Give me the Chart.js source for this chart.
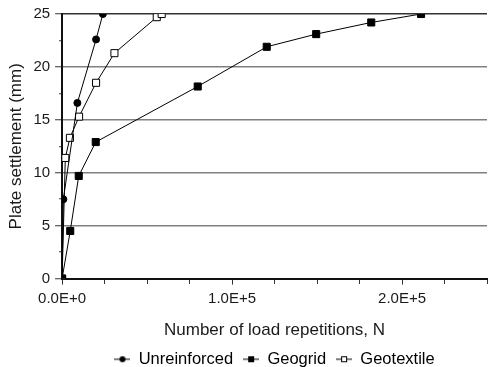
<!DOCTYPE html>
<html>
<head>
<meta charset="utf-8">
<script src="https://cdn.jsdelivr.net/npm/chart.js@4.4.1/dist/chart.umd.min.js"></script>
<style>
    html, body { margin: 0; padding: 0; background: #ffffff; }
    #wrap { width: 493px; height: 367px; }
</style>
</head>
<body>
<div id="wrap"><canvas id="settleChart" width="493" height="367"></canvas></div>
<script>
// Series: N (load repetitions) and settlement (mm)
const seriesNames = ['Unreinforced', 'Geogrid', 'Geotextile'];

const unreinfN = [0, 750, 9000, 20000, 24000];
const unreinfS = [0, 7.5, 16.6, 22.6, 25];

const geogridN = [0, 4800, 9800, 19800, 79800, 120400, 149500, 181900, 211200];
const geogridS = [0, 4.5, 9.7, 12.9, 18.15, 21.9, 23.1, 24.2, 25];

const geotexN = [0, 1900, 4600, 10000, 20000, 30800, 55700, 58600];
const geotexS = [0, 11.4, 13.3, 15.3, 18.5, 21.3, 24.7, 25];

const xMajorTicks = [0, 100000, 200000];
const yMajorTicks = [0, 5, 10, 15, 20, 25];

function toPoints(xs, ys) {
    return xs.map((x, i) => ({ x: x, y: ys[i] }));
}

function fmtSci(v) {
    if (v === 0) return '0.0E+0';
    return (v / 100000).toFixed(1) + 'E+5';
}

// small legend icon: line with marker in the middle
function legendIcon(style, filled) {
    const c = document.createElement('canvas');
    c.width = 16; c.height = 8;
    const g = c.getContext('2d');
    g.strokeStyle = '#000';
    g.lineWidth = 1;
    g.beginPath();
    g.moveTo(0, 4); g.lineTo(16, 4);
    g.stroke();
    g.fillStyle = filled ? '#000' : '#fff';
    if (style === 'circle') {
        g.beginPath();
        g.arc(8, 4, 3, 0, Math.PI * 2);
        g.fill();
    } else {
        g.fillRect(5, 1, 6, 6);
        g.strokeRect(5.5, 1.5, 5, 5);
    }
    return c;
}

const FONT = "'Liberation Sans', Arial, sans-serif";
Chart.defaults.font.family = FONT;
Chart.defaults.font.size = 15;
Chart.defaults.color = '#1a1a1a';

const ctx = document.getElementById('settleChart').getContext('2d');

new Chart(ctx, {
    type: 'line',
    data: {
        datasets: [
            {
                label: seriesNames[0],
                data: toPoints(unreinfN, unreinfS),
                borderColor: '#000',
                borderWidth: 1,
                pointStyle: 'circle',
                pointRadius: 3.5,
                pointBackgroundColor: '#000',
                pointBorderColor: '#000',
                icon: legendIcon('circle', true)
            },
            {
                label: seriesNames[1],
                data: toPoints(geogridN, geogridS),
                borderColor: '#000',
                borderWidth: 1,
                pointStyle: 'rect',
                pointRadius: 5,
                pointBackgroundColor: '#000',
                pointBorderColor: '#000',
                icon: legendIcon('rect', true)
            },
            {
                label: seriesNames[2],
                data: toPoints(geotexN, geotexS),
                borderColor: '#000',
                borderWidth: 1,
                pointStyle: 'rect',
                pointRadius: 5,
                pointBorderWidth: 1,
                pointBackgroundColor: '#fff',
                pointBorderColor: '#000',
                icon: legendIcon('rect', false)
            }
        ]
    },
    options: {
        responsive: false,
        animation: false,
        layout: { padding: { top: 8, right: 0, left: 0, bottom: 0 } },
        elements: { line: { tension: 0 } },
        plugins: {
            tooltip: { enabled: false },
            legend: {
                position: 'bottom',
                fullSize: false,
                maxHeight: 26,
                labels: {
                    usePointStyle: true,
                    pointStyleWidth: 16,
                    padding: 10,
                    color: '#1a1a1a',
                    font: { size: 16.5, family: FONT },
                    generateLabels: function (chart) {
                        return chart.data.datasets.map((ds, i) => ({
                            text: ds.label,
                            pointStyle: ds.icon,
                            fillStyle: '#000',
                            strokeStyle: '#000',
                            lineWidth: 0,
                            hidden: false,
                            datasetIndex: i
                        }));
                    }
                }
            }
        },
        scales: {
            x: {
                type: 'linear',
                min: 0,
                max: 250000,
                border: { color: '#111', width: 2 },
                grid: {
                    drawOnChartArea: false,
                    tickLength: 6,
                    tickColor: '#333',
                    // minor ticks are shorter
                    tickBorderDash: c => xMajorTicks.includes(c.tick.value) ? [] : [4, 10]
                },
                ticks: {
                    stepSize: 25000,
                    autoSkip: false,
                    maxRotation: 0,
                    padding: 5,
                    callback: v => xMajorTicks.includes(v) ? fmtSci(v) : ''
                },
                title: {
                    display: true,
                    text: 'Number of load repetitions, N',
                    font: { size: 17, family: FONT },
                    padding: { top: 8, bottom: 0 }
                }
            },
            y: {
                type: 'linear',
                min: 0,
                max: 25,
                border: { color: '#111', width: 2 },
                grid: {
                    tickLength: 7,
                    tickColor: '#333',
                    lineWidth: 1.5,
                    tickWidth: 1,
                    tickBorderDash: c => yMajorTicks.includes(c.tick.value) ? [] : [0, 4, 3, 0],
                    color: c => {
                        const v = c.tick.value;
                        if (v === 25) return '#333';
                        if (v % 5 === 0 && v > 0) return '#808080';
                        return 'rgba(0,0,0,0)';
                    }
                },
                ticks: {
                    stepSize: 2.5,
                    autoSkip: false,
                    padding: 5,
                    callback: v => yMajorTicks.includes(v) ? String(v) : ''
                },
                title: {
                    display: true,
                    text: 'Plate settlement (mm)',
                    font: { size: 17, family: FONT },
                    padding: { top: 6, bottom: 2 }
                }
            }
        }
    }
});
</script>
</body>
</html>
